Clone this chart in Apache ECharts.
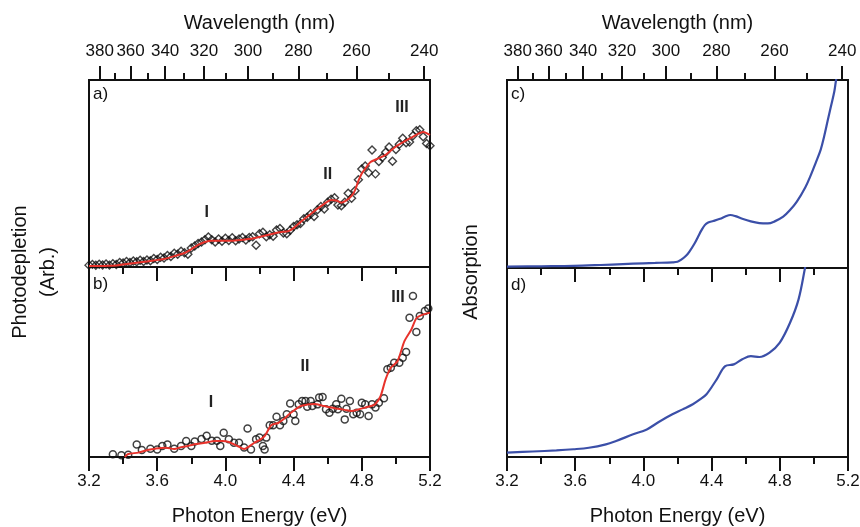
<!DOCTYPE html>
<html><head><meta charset="utf-8">
<script src="https://cdn.jsdelivr.net/npm/echarts@6/dist/echarts.min.js"></script>
<style>html,body{margin:0;padding:0;background:#fff}#c{width:860px;height:527px}</style>
</head><body><div id="c"></div>
<script>
// ---- tick labels ----
const energyTicks = [3.2, 3.6, 4.0, 4.4, 4.8, 5.2];
const energyMinor = [3.4, 3.8, 4.2, 4.6, 5.0];
const wlMajor = [380, 360, 340, 320, 300, 280, 260, 240];
const wlMinor = [370, 350, 330, 310, 290, 270, 250];
const HC = 1239.84;

// ---- panel a: photodepletion (diamonds) and fit (red) ----
const scatterA = [[3.20,1.0],[3.22,1.4],[3.24,0.9],[3.26,1.5],[3.28,1.1],[3.30,1.6],[3.32,1.0],[3.34,1.8],[3.36,1.3],[3.38,2.4],
[3.40,2.1],[3.42,3.0],[3.44,2.4],[3.46,3.2],[3.48,2.8],[3.50,3.6],[3.52,3.0],[3.54,3.8],[3.56,3.4],[3.58,4.6],
[3.60,4.0],[3.62,5.2],[3.64,4.8],[3.66,6.2],[3.68,5.6],[3.70,7.4],[3.72,6.8],[3.74,8.4],[3.76,7.6],[3.78,6.8],
[3.80,10.2],[3.82,11.2],[3.84,12.6],[3.86,13.4],[3.88,14.6],[3.90,16.0],[3.92,14.6],[3.94,13.4],[3.96,15.0],[3.98,13.8],
[4.00,15.4],[4.02,14.2],[4.04,15.6],[4.06,14.0],[4.08,15.0],[4.10,15.8],[4.12,14.4],[4.14,15.8],[4.16,16.2],[4.18,11.6],
[4.20,17.8],[4.22,18.6],[4.24,16.2],[4.26,17.2],[4.28,16.4],[4.30,19.8],[4.32,20.6],[4.34,18.2],[4.36,17.8],[4.38,19.6],
[4.40,21.6],[4.42,22.6],[4.44,23.2],[4.46,25.8],[4.48,26.6],[4.50,28.4],[4.52,27.0],[4.54,30.6],[4.56,32.4],[4.58,31.0],
[4.60,34.6],[4.62,36.2],[4.64,37.0],[4.66,33.2],[4.68,32.8],[4.70,34.6],[4.72,39.4],[4.74,36.8],[4.76,40.8],[4.78,46.6],
[4.80,52.4],[4.82,54.0],[4.84,50.4],[4.86,62.6],[4.88,49.8],[4.90,56.4],[4.92,58.6],[4.94,61.4],[4.96,64.2],[4.98,56.6],
[5.00,62.8],[5.02,65.6],[5.04,68.8],[5.06,66.4],[5.08,66.8],[5.10,70.2],[5.12,72.8],[5.14,73.4],[5.16,69.6],[5.18,66.0],[5.20,64.8]];
const fitA = [[3.20,0.5],[3.30,0.6],[3.36,0.8],[3.42,1.6],[3.50,2.5],[3.58,3.5],[3.64,4.3],[3.70,5.8],[3.76,7.5],[3.80,9.5],
[3.84,11.8],[3.88,13.4],[3.92,14.1],[3.98,14.0],[4.04,14.0],[4.10,14.6],[4.16,15.2],[4.20,16.0],[4.26,17.4],[4.32,18.6],
[4.37,19.2],[4.40,20.8],[4.44,24.0],[4.49,27.6],[4.54,31.2],[4.58,33.8],[4.62,35.8],[4.65,35.6],[4.68,34.4],[4.71,35.6],
[4.74,38.0],[4.76,41.0],[4.78,46.0],[4.80,50.0],[4.82,52.5],[4.85,56.0],[4.90,58.2],[4.94,60.0],[4.98,63.0],[5.01,65.0],
[5.05,67.2],[5.09,69.2],[5.13,71.2],[5.16,72.2],[5.18,71.6],[5.20,70.6]];
const bandsA = [['I',3.89,28.9],['II',4.60,49.2],['III',5.036,85]];

// ---- panel b: photodepletion (circles) and fit (red) ----
const scatterB = [[3.34,1.4],[3.39,0.9],[3.43,1.2],[3.48,6.6],[3.51,3.7],[3.56,4.4],[3.60,4.0],[3.63,5.8],[3.66,6.6],[3.70,4.4],
[3.74,5.8],[3.77,8.4],[3.80,5.8],[3.82,8.1],[3.86,9.5],[3.89,11.2],[3.92,8.6],[3.95,8.6],[3.97,5.8],[3.99,12.8],
[4.02,9.3],[4.05,7.5],[4.08,7.5],[4.11,5.0],[4.13,15.0],[4.15,4.0],[4.18,9.3],[4.20,10.2],[4.22,5.8],[4.23,4.0],
[4.24,10.2],[4.26,16.7],[4.28,16.7],[4.30,21.2],[4.32,16.7],[4.34,19.0],[4.36,22.5],[4.38,28.2],[4.40,22.5],[4.41,19.0],
[4.43,27.7],[4.45,29.5],[4.47,29.5],[4.48,26.5],[4.50,29.5],[4.51,26.9],[4.54,27.7],[4.55,31.3],[4.57,31.6],[4.59,25.1],
[4.61,23.3],[4.63,25.4],[4.65,27.7],[4.66,25.1],[4.68,30.6],[4.70,19.8],[4.71,25.4],[4.73,29.5],[4.75,22.5],[4.77,23.3],
[4.79,22.5],[4.80,28.6],[4.82,27.7],[4.84,21.6],[4.86,27.7],[4.88,26.0],[4.90,28.6],[4.93,30.9],[4.95,46.2],[4.97,47.0],
[4.99,49.6],[5.02,49.6],[5.04,52.3],[5.06,55.3],[5.08,73.3],[5.10,84.7],[5.12,65.8],[5.14,74.2],[5.17,76.8],[5.19,78.1]];
const fitB = [[3.41,0.0],[3.43,1.6],[3.49,2.3],[3.55,3.8],[3.59,4.4],[3.65,4.9],[3.70,4.2],[3.74,5.2],[3.78,5.8],[3.83,6.8],
[3.88,7.5],[3.94,8.4],[3.98,8.4],[4.02,7.9],[4.07,5.8],[4.11,4.2],[4.14,5.6],[4.17,7.5],[4.20,8.9],[4.23,11.0],
[4.27,16.8],[4.31,17.9],[4.35,20.5],[4.38,23.0],[4.44,26.8],[4.48,27.6],[4.52,27.9],[4.58,26.8],[4.62,26.0],[4.66,25.4],
[4.70,24.8],[4.74,24.2],[4.78,25.0],[4.82,26.0],[4.86,27.0],[4.88,27.9],[4.91,32.0],[4.94,41.0],[4.97,47.0],[5.01,50.5],
[5.05,61.0],[5.09,67.0],[5.12,73.0],[5.15,74.7],[5.20,76.0]];
const bandsB = [['I',3.916,28.4],['II',4.467,47.4],['III',5.012,83.7]];

// ---- panel c and d: absorption ----
const absC = [[3.20,0.7],[3.40,0.9],[3.59,1.1],[3.75,1.6],[3.88,2.1],[4.00,2.5],[4.07,2.7],[4.17,3.0],[4.20,3.3],[4.22,4.3],
[4.25,6.5],[4.27,8.7],[4.30,13.0],[4.32,16.5],[4.34,20.0],[4.36,22.8],[4.38,24.2],[4.41,25.0],[4.45,26.2],[4.48,27.4],
[4.51,28.2],[4.54,27.6],[4.58,26.2],[4.63,24.8],[4.68,23.9],[4.73,23.7],[4.77,24.8],[4.82,27.3],[4.86,30.8],[4.90,35.3],
[4.95,43.0],[4.98,49.0],[5.01,55.8],[5.04,63.0],[5.06,70.0],[5.08,78.0],[5.10,86.0],[5.12,94.0],[5.13,100],[5.15,110]];
const absD = [[3.20,2.3],[3.35,2.9],[3.49,3.5],[3.59,4.1],[3.68,4.9],[3.78,6.7],[3.84,8.5],[3.94,12.0],[4.02,14.6],[4.09,18.5],
[4.17,22.6],[4.23,25.2],[4.29,27.9],[4.33,30.3],[4.37,33.2],[4.43,41.1],[4.48,48.1],[4.53,49.0],[4.58,51.7],[4.63,53.4],
[4.68,52.9],[4.74,55.2],[4.80,60.5],[4.86,71.0],[4.91,83.4],[4.95,101],[4.97,110]];

const FONT = '"Liberation Sans", Arial, Helvetica, sans-serif';
const INK = '#111';
const RED = '#e8322b';
const BLUE = '#3b4fa8';
const MAJOR_LEN = 14, MINOR_LEN = 7;

const wlMajorE = wlMajor.map(l => HC / l);
const wlMinorE = wlMinor.map(l => HC / l);

const RECTS = [
  {left: 89, top: 80, width: 341, height: 187},
  {left: 89, top: 267, width: 341, height: 190},
  {left: 507, top: 80, width: 341, height: 188},
  {left: 507, top: 268, width: 341, height: 189}
];
const grids = RECTS.map(r => Object.assign({}, r, {show: true, borderColor: INK, borderWidth: 2,
  backgroundColor: 'transparent', containLabel: false, outerBoundsMode: 'none'}));

function tickStyle() { return {color: INK, width: 2}; }
function noLine() { return {show: false, onZero: false}; }

function wlAxis(g, values, len, labelled) {
  const ax = {type: 'value', gridIndex: g, position: 'top', min: 3.2, max: 5.2,
    axisLine: noLine(), splitLine: {show: false},
    axisTick: {show: true, customValues: values, length: len, lineStyle: tickStyle()},
    axisLabel: {show: labelled, customValues: values, margin: 20, fontSize: 17, color: INK, fontFamily: FONT,
      formatter: v => String(Math.round(HC / v))}};
  if (labelled) {
    ax.name = 'Wavelength (nm)';
    ax.nameLocation = 'middle';
    ax.nameGap = 47;
    ax.nameTextStyle = {fontSize: 20, color: INK, fontFamily: FONT};
  }
  return ax;
}
function eAxis(g) {
  return {type: 'value', gridIndex: g, position: 'bottom', min: energyTicks[0], max: energyTicks[energyTicks.length - 1], interval: 0.4,
    axisLine: noLine(), splitLine: {show: false}, minorSplitLine: {show: false},
    axisTick: {show: true, length: MAJOR_LEN, lineStyle: tickStyle()},
    minorTick: {show: true, splitNumber: 2, length: MINOR_LEN, lineStyle: tickStyle()},
    axisLabel: {show: true, margin: 16, fontSize: 17, color: INK, fontFamily: FONT, formatter: v => v.toFixed(1)},
    name: 'Photon Energy (eV)', nameLocation: 'middle', nameGap: 49,
    nameTextStyle: {fontSize: 20, color: INK, fontFamily: FONT}};
}

const xAxis = [
  wlAxis(0, wlMajorE, MAJOR_LEN, true),   // 0 panel a wavelength
  wlAxis(0, wlMinorE, MINOR_LEN, false),  // 1
  eAxis(1),                               // 2 panel b energy
  wlAxis(2, wlMajorE, MAJOR_LEN, true),   // 3 panel c wavelength
  wlAxis(2, wlMinorE, MINOR_LEN, false),  // 4
  eAxis(3)                                // 5 panel d energy
];
const yAxis = [0, 1, 2, 3].map(g => ({type: 'value', gridIndex: g, min: 0, max: 100, show: false, axisLine: {onZero: false}}));

// energy ticks hanging down from the divider into the lower panel, placed through the lower panel's scales
function dividerTicks(panelHeight) {
  const seg = (e, len) => [{coord: [e, 100]}, {coord: [e, 100 - len / panelHeight * 100]}];
  return {silent: true, symbol: ['none', 'none'], label: {show: false},
    lineStyle: {color: INK, width: 2, type: 'solid', opacity: 1},
    emphasis: {disabled: true},
    data: energyTicks.slice(1, -1).map(e => seg(e, MAJOR_LEN)).concat(energyMinor.map(e => seg(e, MINOR_LEN)))};
}

function bandMarks(list) {
  return {symbol: 'rect', symbolSize: 1, itemStyle: {color: 'rgba(0,0,0,0)'}, silent: true,
    label: {show: true, position: 'inside', formatter: '{b}', fontSize: 16, fontWeight: 'bold', color: '#222', fontFamily: FONT},
    data: list.map(b => ({name: b[0], coord: [b[1], b[2]]}))};
}

const series = [
  {type: 'scatter', xAxisIndex: 0, yAxisIndex: 0, data: scatterA, symbol: 'diamond', symbolSize: 8,
    itemStyle: {color: 'rgba(255,255,255,0)', borderColor: INK, borderWidth: 1.4}, z: 2},
  {type: 'line', xAxisIndex: 0, yAxisIndex: 0, data: fitA, showSymbol: false, smooth: 0.25,
    lineStyle: {color: RED, width: 2}, z: 3, markPoint: bandMarks(bandsA)},
  {type: 'scatter', xAxisIndex: 2, yAxisIndex: 1, data: scatterB, symbol: 'circle', symbolSize: 7,
    itemStyle: {color: 'rgba(255,255,255,0)', borderColor: INK, borderWidth: 1.5}, z: 2},
  {type: 'line', xAxisIndex: 2, yAxisIndex: 1, data: fitB, showSymbol: false, smooth: 0.25,
    lineStyle: {color: RED, width: 2}, z: 3, markPoint: bandMarks(bandsB), markLine: dividerTicks(RECTS[1].height)},
  {type: 'line', xAxisIndex: 3, yAxisIndex: 2, data: absC, showSymbol: false, smooth: 0.35,
    lineStyle: {color: BLUE, width: 2.2}},
  {type: 'line', xAxisIndex: 5, yAxisIndex: 3, data: absD, showSymbol: false, smooth: 0.35,
    lineStyle: {color: BLUE, width: 2.2}, markLine: dividerTicks(RECTS[3].height)}
];

const txt = (t, left, top) => ({type: 'text', left: left, top: top,
  style: {text: t, fontSize: 17, fontFamily: FONT, fill: INK}});

const chart = echarts.init(document.getElementById('c'), null, {renderer: 'canvas'});
chart.setOption({
  backgroundColor: '#fff',
  animation: false,
  grid: grids,
  xAxis: xAxis,
  yAxis: yAxis,
  series: series,
  graphic: [
    txt('a)', 93, 86), txt('b)', 93, 276), txt('c)', 511, 86), txt('d)', 511, 277),
    {type: 'text', x: 34, y: 272, rotation: Math.PI / 2,
      style: {text: 'Photodepletion\n(Arb.)', align: 'center', verticalAlign: 'middle', fontSize: 20, lineHeight: 28, fontFamily: FONT, fill: INK}},
    {type: 'text', x: 471, y: 272, rotation: Math.PI / 2,
      style: {text: 'Absorption', align: 'center', verticalAlign: 'middle', fontSize: 20, fontFamily: FONT, fill: INK}}
  ]
});
</script></body></html>
